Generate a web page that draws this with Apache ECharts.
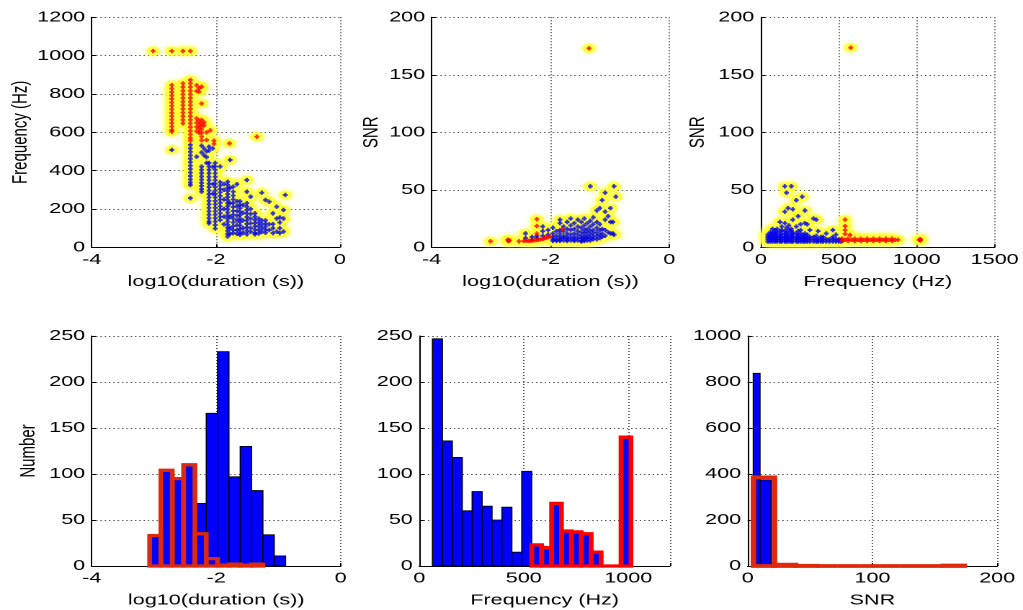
<!DOCTYPE html>
<html><head><meta charset="utf-8">
<script src="https://cdn.jsdelivr.net/npm/echarts@6.0.0/dist/echarts.min.js"></script>
<style>
html,body{margin:0;padding:0;background:#fff;overflow:hidden;width:1023px;height:610px}
#c{width:710px;height:610px;transform:scaleX(1.44085);transform-origin:0 0}
</style></head>
<body><div id="c"></div>
<script>
// ---------- DATA ----------
// Panel 1: log10(duration) vs Frequency; rows = [x, y1, y2, ...]
const p1RedCols = [
 [-3.01, 1024],
 [-2.71, 1024, 846, 828, 810, 792, 774, 756, 738, 720, 702, 684, 666, 648, 630, 612, 603],
 [-2.53, 1024, 855, 836, 817, 798, 779, 760, 741, 722, 703, 684, 665, 647],
 [-2.41, 1024, 873, 855, 836, 817, 798, 779, 760, 741, 722, 703, 684, 665, 646, 627, 608, 589, 570, 556],
 [-2.31, 845, 815, 672, 650, 628, 605],
 [-2.27, 830, 812, 660, 640, 620, 598],
 [-2.23, 838, 750, 665, 648, 632, 615, 598, 578, 558],
 [-2.19, 652, 636],
 [-2.15, 600, 560],
 [-2.09, 610],
 [-2.03, 556, 540],
 [-1.78, 542],
 [-1.34, 577]
];
const p1BlueCols = [
 [-2.71, 508],
 [-2.41, 534, 516, 498, 480, 462, 444, 426, 408, 390, 372, 354, 338, 325, 256],
 [-2.31, 473],
 [-2.23, 530, 495, 421, 404, 387, 370, 353, 336, 320, 304, 290],
 [-2.19, 515, 480],
 [-2.15, 500, 470, 440],
 [-2.11, 525, 505, 440, 422, 404, 386, 368, 350, 332, 314, 296, 278, 260, 242, 224, 206, 188, 170, 152, 135, 125],
 [-2.05, 516, 420, 330, 280],
 [-2.01, 440, 422, 404, 386, 368, 350, 332, 314, 296, 278, 260, 242, 224, 206, 188, 170, 152, 134, 116, 98],
 [-1.93, 421, 340, 322, 304, 286, 268, 250, 232, 214, 196, 178, 160, 142],
 [-1.87, 330, 300, 250, 200, 160, 120],
 [-1.81, 342, 326, 310, 294, 278, 262, 246, 230, 214, 198, 182, 166, 150, 134, 118, 102, 86, 70, 56],
 [-1.77, 456, 310, 230, 160, 100, 70],
 [-1.72, 316, 290, 270, 250, 230, 210, 190, 170, 150, 130, 110, 90, 74],
 [-1.66, 329, 240, 215, 190, 165, 140, 115, 90, 70],
 [-1.61, 240, 222, 204, 186, 168, 150, 132, 114, 96, 78, 65],
 [-1.56, 220, 180, 140, 100, 75],
 [-1.50, 351, 290, 230, 212, 194, 176, 158, 140, 122, 104, 86, 68],
 [-1.44, 264, 200, 175, 150, 125, 100, 80],
 [-1.37, 177, 160, 143, 126, 109, 92, 75, 68],
 [-1.31, 150, 130, 110, 90, 72],
 [-1.26, 285, 140, 120, 100, 80],
 [-1.20, 247, 140, 124, 108, 92, 76],
 [-1.14, 238, 120, 90],
 [-1.08, 177, 121, 100, 74],
 [-1.02, 212, 150, 82],
 [-0.97, 156, 130, 100, 74],
 [-0.91, 195, 150, 82],
 [-0.88, 273]
];
// Panel 2: log10(duration) vs SNR
const p2RedCols = [
 [-3.01, 5.2], [-2.72, 6.5], [-2.71, 5.5, 6], [-2.69, 6], [-2.53, 5.2], [-2.45, 5.5],
 [-2.41, 5.8], [-2.37, 5.5], [-2.33, 5.8], [-2.29, 6], [-2.25, 6.2], [-2.23, 11.9, 18.5, 24.4],
 [-2.21, 6.5], [-2.17, 6.8], [-2.13, 7.3], [-2.10, 7.8], [-2.07, 8.4], [-2.04, 9], [-2.01, 9.6],
 [-1.80, 15.6], [-1.35, 173]
];
const p2BlueCols = [
 [-2.42, 12, 8], [-2.31, 9, 6.5], [-2.23, 10, 8], [-2.13, 18, 14, 10], [-2.04, 15, 11],
 [-1.96, 17, 12, 9, 7, 5.5], [-1.90, 14, 10, 7, 5.5], [-1.84, 24, 21, 15, 12, 9, 7, 5.5],
 [-1.78, 18, 14, 10, 8, 6], [-1.72, 22, 16, 12, 9, 7, 5.5], [-1.66, 25, 19, 15, 11, 8, 6],
 [-1.60, 21, 16, 12, 9, 7, 5.5], [-1.54, 24, 18, 14, 11, 8, 6], [-1.48, 22, 17, 13, 10, 8, 6, 5],
 [-1.43, 25, 19, 15, 12, 9, 7, 5.5], [-1.38, 21, 16, 13, 10, 8, 6], [-1.33, 53, 23, 18, 14, 11, 8, 6],
 [-1.28, 26, 20, 15, 12, 9, 7], [-1.22, 32, 22, 17, 13, 10, 7], [-1.17, 34, 20, 15, 11, 8],
 [-1.13, 41, 16, 12, 9], [-1.08, 47.5, 31, 24, 15, 10], [-1.03, 27, 13], [-0.99, 34, 22, 12],
 [-0.95, 22, 12], [-0.93, 53, 11], [-0.90, 44]
];
// Panel 3: Frequency vs SNR
const p3RedCols = [
 [522, 5.5, 7.5], [541, 6.5, 11.6, 15, 18.5, 24], [560, 5.5, 7.5], [572, 10.7], [577, 173.6],
 [582, 6.5], [602, 5.5, 7.5], [622, 6.5], [642, 5.5, 7.5], [662, 6.5], [682, 5.5, 7.5],
 [702, 6.5], [722, 5.5, 7.5], [742, 6.5], [762, 5.5, 7.5], [782, 6.5], [802, 5.5, 7.5],
 [822, 6.5], [842, 5.5, 7.5], [862, 6.5], [880, 6.5], [1015, 6.5], [1024, 6, 7]
];
const p3BlueCols = [
 [45, 5, 7, 9, 11], [60, 5, 7, 9, 11, 13], [75, 5, 7, 9, 11, 13, 16], [91, 5, 7, 9, 11, 13, 15],
 [105, 5, 7, 9, 11, 13, 16], [123, 5, 7, 9, 11, 14, 22], [135, 5, 7, 9, 12, 15, 18],
 [154, 5, 7, 9, 11, 14, 21, 31, 53], [165, 5, 7, 9, 11, 13, 17, 47.5], [175, 34],
 [180, 5, 7, 9, 12, 15, 19], [196, 5, 7, 9, 11, 14, 16, 53], [205, 5, 7, 9, 11, 13, 24, 33],
 [228, 5, 7, 9, 12, 18, 41], [240, 5, 7, 9, 11, 14, 27], [255, 5, 7, 9, 12, 15, 20], [266, 44],
 [270, 5, 7, 9, 11], [283, 5, 7, 9, 12, 21, 32], [298, 5, 7, 9, 11, 20], [315, 5, 7, 9, 15],
 [338, 5, 7, 9, 25], [356, 5, 7, 10, 24], [368, 5, 7, 14], [385, 5, 7, 9], [400, 5, 7, 9],
 [420, 5, 7, 12], [440, 5, 7], [462, 5, 7, 9, 15], [482, 5, 7, 11], [500, 5, 7], [515, 5, 6.5]
];
// Panel 4: histogram of log10(duration)
const durEdges = [-3.07, -2.888, -2.706, -2.524, -2.342, -2.16, -1.978, -1.796, -1.614, -1.432, -1.25, -1.068, -0.886];
const durAll = [33, 104, 95, 110, 68, 166, 233, 97, 130, 82, 34, 11];
const durRed = [33, 104, 95, 110, 35, 8, 1, 2, 1, 2, null, null];
// Panel 5: histogram of Frequency
const freqEdges = [63, 110.5, 158, 205.5, 253, 300.5, 348, 395.5, 443, 490.5, 538, 585.5, 633, 680.5, 728, 775.5, 823, 870.5, 918, 965.5, 1013];
const freqAll = [247, 136, 118, 60, 81, 65, 50, 64, 15, 103, 23, 20, 68, 38, 37, 35, 15, 0, 0, 140];
const freqRed = [null, null, null, null, null, null, null, null, null, null, 23, 20, 68, 38, 37, 35, 15, 0, 0, 140];
// Panel 6: histogram of SNR
const snrAllEdges = [4.5, 9.9, 18.8];
const snrAll = [838, 374];
const snrRedEdges = [4.6, 21.5, 38.4, 55.3, 72.2, 89.1, 106, 122.9, 139.8, 156.7, 173.6];
const snrRed = [385, 6, 1, 0, 0, 0, 0, 0, 0, 2];
// Axis ticks: [min, max, interval]
const durTicks = [-4, 0, 2];
const freqTicks1 = [0, 1200, 200];
const snrTicks = [0, 200, 50];
const freqTicks3 = [0, 1500, 500];
const countTicks = [0, 250, 50];
const freqTicks5 = [0, 1200, 500];
const snrTicks6 = [0, 200, 100];
const countTicks6 = [0, 1000, 200];

// ---------- CHART ----------
const FF = '"Liberation Sans", Arial, Helvetica, sans-serif';
function flat(cols){ const out=[]; cols.forEach(c=>{ for(let i=1;i<c.length;i++) out.push([c[0], c[i]]); }); return out; }

const grids = [
 {left:63.65, top:17.3, width:172.3, height:230},
 {left:299.6, top:17.3, width:164.9, height:230},
 {left:528.0, top:17.3, width:164.2, height:230},
 {left:63.65, top:336, width:172.8, height:230},
 {left:291.0, top:336, width:174.0, height:230},
 {left:518.9, top:336, width:173.2, height:230}
];

function axis(i, t, name, isY, gap, labelStep){
 return {
  type:'value', gridIndex:i, min:t[0], max:t[1], interval:t[2],
  name:name||'', nameLocation:'middle', nameGap:gap,
  nameTextStyle:{fontFamily:FF, fontSize:15, color:'#000'},
  axisLine:{show:true, onZero:false, lineStyle:{color:'#000', width:1}},
  axisTick:{show:true, inside:true, length:3, lineStyle:{color:'#000'}},
  axisLabel:{fontFamily:FF, fontSize:15, color:'#000', margin:isY?4.5:5,
    formatter: v => (labelStep && (v % labelStep) !== 0) ? '' : String(v)},
  splitLine:{show:true, lineStyle:{color:'#555', type:[1,2], width:1}}
 };
}

const xAxes = [
 axis(0, durTicks, 'log10(duration (s))', false, 27),
 axis(1, durTicks, 'log10(duration (s))', false, 27),
 axis(2, freqTicks3, 'Frequency (Hz)', false, 27),
 axis(3, durTicks, 'log10(duration (s))', false, 27),
 axis(4, freqTicks5, 'Frequency (Hz)', false, 27, 500),
 axis(5, snrTicks6, 'SNR', false, 27)
];
const yAxes = [
 axis(0, freqTicks1, 'Frequency (Hz)', true, 42),
 axis(1, snrTicks, 'SNR', true, 34),
 axis(2, snrTicks, 'SNR', true, 36),
 axis(3, countTicks, 'Number', true, 36.5),
 axis(4, countTicks, '', true, 30),
 axis(5, countTicks6, '', true, 30)
];

const PLUS = 'path://M2,0H5V2H7V5H5V7H2V5H0V2H2Z';
const series = [];
function scatterPanel(i, blueCols, redCols){
 const b = flat(blueCols), r = flat(redCols);
 series.push({type:'scatter', xAxisIndex:i, yAxisIndex:i, data:b.concat(r), symbol:'circle', symbolSize:9.5,
   itemStyle:{color:'#ffff30', shadowBlur:5, shadowColor:'rgba(255,255,80,0.95)'}, silent:true, z:2});
 series.push({type:'scatter', xAxisIndex:i, yAxisIndex:i, data:b, symbol:PLUS, symbolSize:[3.3,4.4],
   itemStyle:{color:'#0000ee'}, silent:true, z:3});
 series.push({type:'scatter', xAxisIndex:i, yAxisIndex:i, data:r, symbol:PLUS, symbolSize:[3.3,4.4],
   itemStyle:{color:'#ff0000'}, silent:true, z:4});
}
scatterPanel(0, p1BlueCols, p1RedCols);
scatterPanel(1, p2BlueCols, p2RedCols);
scatterPanel(2, p3BlueCols, p3RedCols);

function hist(i, edges, vals, style, z){
 const data = [];
 vals.forEach((v,k)=>{ if(v!==null) data.push([edges[k], edges[k+1], v]); });
 series.push({type:'custom', xAxisIndex:i, yAxisIndex:i, data, clip:false, silent:true, z:z,
  encode:{x:[0,1], y:2},
  renderItem:(p, api)=>{
   const a = api.coord([api.value(0), api.value(2)]);
   const b = api.coord([api.value(1), 0]);
   return {type:'rect', shape:{x:a[0], y:a[1], width:b[0]-a[0], height:b[1]-a[1]}, style:style};
  }});
}
const blueStyle = {fill:'#0000ff', stroke:'#000', lineWidth:0.8};
hist(3, durEdges, durAll, blueStyle, 2);
hist(3, durEdges, durRed, {fill:'none', stroke:'#dd2a0c', lineWidth:3.3}, 3);
hist(4, freqEdges, freqAll, blueStyle, 2);
hist(4, freqEdges, freqRed, {fill:'none', stroke:'#ff0000', lineWidth:3.3}, 3);
hist(5, snrAllEdges, snrAll, blueStyle, 2);
hist(5, snrRedEdges, snrRed, {fill:'none', stroke:'#dd2a0c', lineWidth:3.8}, 3);

const chart = echarts.init(document.getElementById('c'), null, {renderer:'canvas', devicePixelRatio:2});
chart.setOption({animation:false, backgroundColor:'#fff', grid:grids, xAxis:xAxes, yAxis:yAxes, series:series});
</script>
</body></html>
